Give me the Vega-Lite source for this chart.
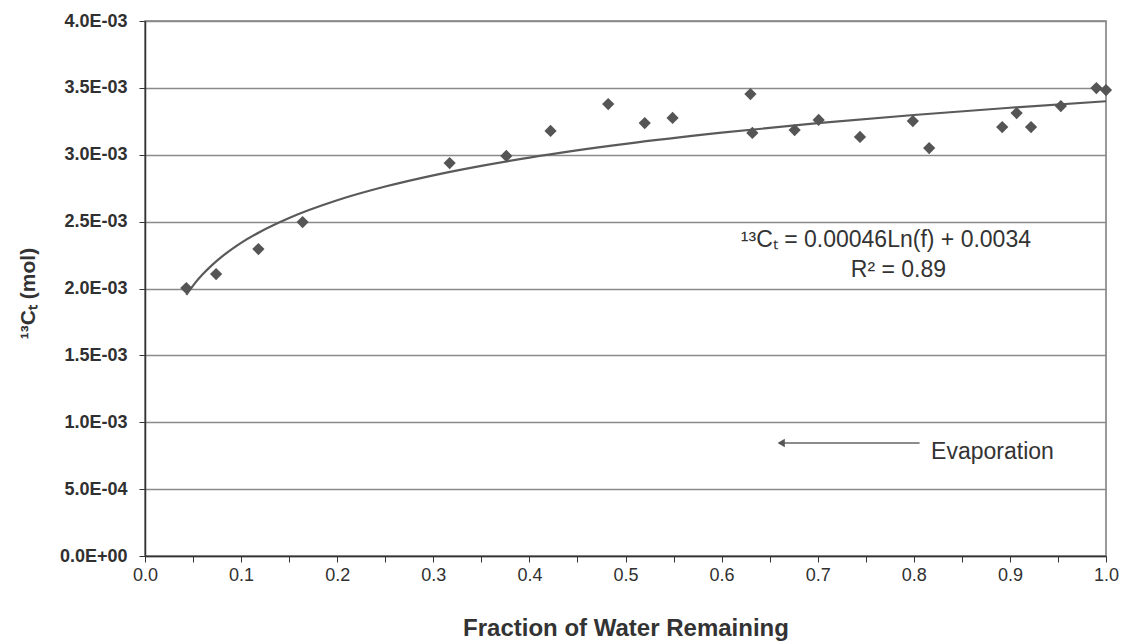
{
  "$schema": "https://vega.github.io/schema/vega-lite/v6.json",
  "autosize": "none",
  "width": 961,
  "height": 535,
  "padding": {"left": 145, "top": 21, "right": 20, "bottom": 85},
  "background": "white",
  "config": {
    "font": "Liberation Sans",
    "view": {"stroke": "#7a7a7a", "strokeWidth": 1.5},
    "axis": {
      "labelColor": "#333", "titleColor": "#333",
      "labelFont": "Liberation Sans", "titleFont": "Liberation Sans",
      "labelFlush": false,
      "tickSize": 6, "tickColor": "#333", "domainColor": "#333", "domainWidth": 1.5
    }
  },
  "datasets": {
    "obs": [
      {"f": 0.043, "c": 0.002003},
      {"f": 0.074, "c": 0.002108},
      {"f": 0.118, "c": 0.002295},
      {"f": 0.164, "c": 0.002497},
      {"f": 0.317, "c": 0.002938},
      {"f": 0.376, "c": 0.002991},
      {"f": 0.422, "c": 0.003178},
      {"f": 0.482, "c": 0.003379},
      {"f": 0.520, "c": 0.003237},
      {"f": 0.549, "c": 0.003275},
      {"f": 0.630, "c": 0.003454},
      {"f": 0.632, "c": 0.003163},
      {"f": 0.676, "c": 0.003185},
      {"f": 0.701, "c": 0.003260},
      {"f": 0.744, "c": 0.003133},
      {"f": 0.799, "c": 0.003252},
      {"f": 0.816, "c": 0.003050},
      {"f": 0.892, "c": 0.003207},
      {"f": 0.907, "c": 0.003312},
      {"f": 0.922, "c": 0.003207},
      {"f": 0.953, "c": 0.003364},
      {"f": 0.990, "c": 0.003499},
      {"f": 1.000, "c": 0.003484}
    ],
    "fit": [
      {"f": 0.043, "c": 0.0019526},
      {"f": 0.05, "c": 0.0020220},
      {"f": 0.06, "c": 0.0021058},
      {"f": 0.07, "c": 0.0021767},
      {"f": 0.08, "c": 0.0022382},
      {"f": 0.1, "c": 0.0023408},
      {"f": 0.12, "c": 0.0024247},
      {"f": 0.15, "c": 0.0025273},
      {"f": 0.2, "c": 0.0026597},
      {"f": 0.25, "c": 0.0027623},
      {"f": 0.3, "c": 0.0028462},
      {"f": 0.35, "c": 0.0029171},
      {"f": 0.4, "c": 0.0029785},
      {"f": 0.5, "c": 0.0030812},
      {"f": 0.6, "c": 0.0031650},
      {"f": 0.7, "c": 0.0032359},
      {"f": 0.8, "c": 0.0032974},
      {"f": 0.9, "c": 0.0033515},
      {"f": 1.0, "c": 0.0034}
    ],
    "arrow": [{"f": 0.806, "f2": 0.662, "c": 0.000845}],
    "eq": [
      {"f": 0.771, "c": 0.002363, "t": "¹³Cₜ = 0.00046Ln(f) + 0.0034"},
      {"f": 0.784, "c": 0.002138, "t": "R² = 0.89"}
    ],
    "lab": [
      {"f": 0.818, "c": 0.000778, "t": "Evaporation"}
    ]
  },
  "layer": [
    {
      "data": {"name": "fit"},
      "mark": {"type": "line", "color": "#5a5a5a", "strokeWidth": 2.2, "interpolate": "monotone"},
      "encoding": {
        "x": {
          "field": "f", "type": "quantitative",
          "scale": {"domain": [0, 1], "nice": false},
          "axis": {
            "title": "Fraction of Water Remaining",
            "titleFontSize": 24, "titleFontWeight": "bold", "titleY": 72, "titleBaseline": "middle",
            "values": [0, 0.05, 0.1, 0.15, 0.2, 0.25, 0.3, 0.35, 0.4, 0.45, 0.5, 0.55, 0.6, 0.65, 0.7, 0.75, 0.8, 0.85, 0.9, 0.95, 1.0],
            "labelExpr": "round(datum.value * 100) % 10 == 0 ? format(datum.value, '.1f') : ''",
            "labelFontSize": 18, "labelPadding": 4, "labelColor": "#303030",
            "grid": false
          }
        },
        "y": {
          "field": "c", "type": "quantitative",
          "scale": {"domain": [0, 0.004], "nice": false},
          "axis": {
            "title": "¹³Cₜ (mol)",
            "titleFontSize": 21, "titleFontWeight": "bold", "titleX": -117, "titleY": 272, "titleAngle": -90, "titleBaseline": "middle",
            "values": [0, 0.0005, 0.001, 0.0015, 0.002, 0.0025, 0.003, 0.0035, 0.004],
            "labelExpr": "datum.value == 0 ? '0.0E+00' : format(datum.value / pow(10, floor(log(datum.value) / LN10 + 1e-9)), '.1f') + 'E-0' + (-floor(log(datum.value) / LN10 + 1e-9))",
            "labelFontSize": 18, "labelPadding": 12, "labelFontWeight": "bold", "labelColor": "#303030",
            "grid": true, "gridColor": "#8a8a8a", "gridWidth": 1.5
          }
        }
      }
    },
    {
      "data": {"name": "obs"},
      "mark": {"type": "point", "shape": "diamond", "filled": true, "size": 150, "color": "#555555", "opacity": 1},
      "encoding": {
        "x": {"field": "f", "type": "quantitative"},
        "y": {"field": "c", "type": "quantitative"}
      }
    },
    {
      "data": {"name": "arrow"},
      "mark": {"type": "rule", "color": "#666", "strokeWidth": 1.5},
      "encoding": {
        "x": {"field": "f", "type": "quantitative"},
        "x2": {"field": "f2"},
        "y": {"field": "c", "type": "quantitative"}
      }
    },
    {
      "data": {"name": "arrow"},
      "mark": {"type": "point", "shape": "triangle-left", "filled": true, "size": 70, "color": "#555", "opacity": 1},
      "encoding": {
        "x": {"field": "f2", "type": "quantitative"},
        "y": {"field": "c", "type": "quantitative"}
      }
    },
    {
      "data": {"name": "eq"},
      "mark": {"type": "text", "fontSize": 23, "color": "#333", "baseline": "middle", "align": "center"},
      "encoding": {
        "x": {"field": "f", "type": "quantitative"},
        "y": {"field": "c", "type": "quantitative"},
        "text": {"field": "t"}
      }
    },
    {
      "data": {"name": "lab"},
      "mark": {"type": "text", "fontSize": 23, "color": "#333", "baseline": "middle", "align": "left"},
      "encoding": {
        "x": {"field": "f", "type": "quantitative"},
        "y": {"field": "c", "type": "quantitative"},
        "text": {"field": "t"}
      }
    }
  ]
}
